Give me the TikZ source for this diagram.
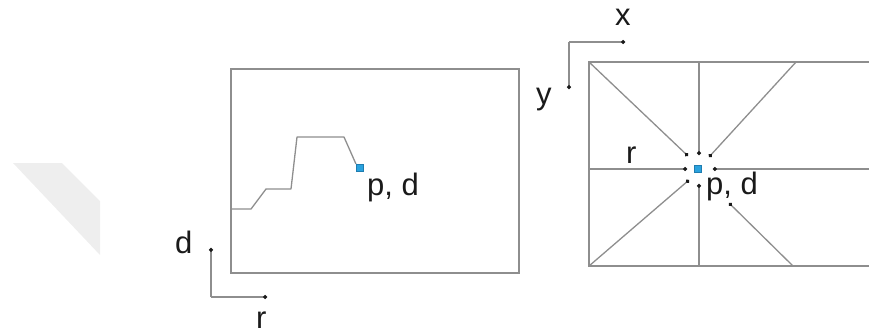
\documentclass[tikz,border=0pt]{standalone}
\usepackage{fontspec}
\setmainfont{Liberation Sans}
\usetikzlibrary{arrows.meta}
\definecolor{linegray}{HTML}{8E8E8E}
\definecolor{inkgray}{HTML}{1A1A1A}
\definecolor{markblue}{HTML}{2AA2DE}
\definecolor{markedge}{HTML}{1F7DB0}
\definecolor{bandgray}{HTML}{EEEEEE}
\tikzset{
  frame/.style={draw=linegray, line width=1.3pt},
  spoke/.style={draw=linegray, line width=1.3pt},
  dotend/.style={spoke, -{Circle[length=3.8pt, color=inkgray]}},
  lbl/.style={text=inkgray, font=\fontsize{31}{33}\selectfont, inner sep=0pt, anchor=base west},
  bluesq/.style={draw=markedge, fill=markblue, line width=0.6pt, minimum size=7.5pt, inner sep=0pt}
}
\begin{document}
\begin{tikzpicture}[x=1pt, y=-1pt]
\useasboundingbox (0,0) rectangle (869,335);

% faint grey band at the left
\fill[bandgray] (13,163) -- (62,163) -- (100,201) -- (100,255) -- cycle;

% ---------- left panel: depth profile ----------
\draw[frame] (231,69) rectangle (519,273);
\node[bluesq] (pdL) at (360,168) {};
\coordinate (q0) at (231,209);
\draw[spoke, line join=round] (q0) -- (251,209) -- (266,189) -- (291,189) -- (297,137)
  -- (344,137) -- (pdL.north west);
\node[lbl] (labpdL) at (367,195) {p, d};

% r-d axes
\coordinate (ax0) at (211,297);
\coordinate (axd) at (211,248);
\coordinate (axr) at (267,297);
\draw[dotend] (ax0) -- (axd);
\draw[dotend] (ax0) -- (axr);
\node[lbl] (labd) at (175,253) {d};
\node[lbl] (labr) at (256,328) {r};

% ---------- right panel: top view ----------
\draw[frame] (872,62) -- (589,62) -- (589,266) -- (872,266);
\node[bluesq] (pdR) at (698,169) {};

\coordinate (tl) at (589,62);
\coordinate (tm) at (699,62);
\coordinate (tr) at (796,62);
\coordinate (ml) at (589,169);
\coordinate (mr) at (872,169);
\coordinate (bl) at (589,266);
\coordinate (bm) at (699,266);
\coordinate (br) at (793,266);

\coordinate (etl) at (688,156);
\coordinate (etm) at (699,155);
\coordinate (etr) at (709,157);
\coordinate (eml) at (687,169);
\coordinate (emr) at (713,169);
\coordinate (ebl) at (689,180);
\coordinate (ebm) at (699,184);
\coordinate (ebr) at (729,203);

\draw[dotend] (tl) -- (etl);
\draw[dotend] (tm) -- (etm);
\draw[dotend] (tr) -- (etr);
\draw[dotend] (ml) -- (eml);
\draw[dotend] (mr) -- (emr);
\draw[dotend] (bl) -- (ebl);
\draw[dotend] (bm) -- (ebm);
\draw[dotend] (br) -- (ebr);

\node[lbl] (labpdR) at (706,194) {p, d};
\node[lbl] (labrR) at (626,163) {r};

% x-y axes
\coordinate (bx0) at (569,42);
\coordinate (bxx) at (625,42);
\coordinate (bxy) at (569,89);
\draw[dotend] (bx0) -- (bxx);
\draw[dotend] (bx0) -- (bxy);
\node[lbl] (labx) at (615,25) {x};
\node[lbl] (laby) at (536,104) {y};
\end{tikzpicture}
\end{document}
